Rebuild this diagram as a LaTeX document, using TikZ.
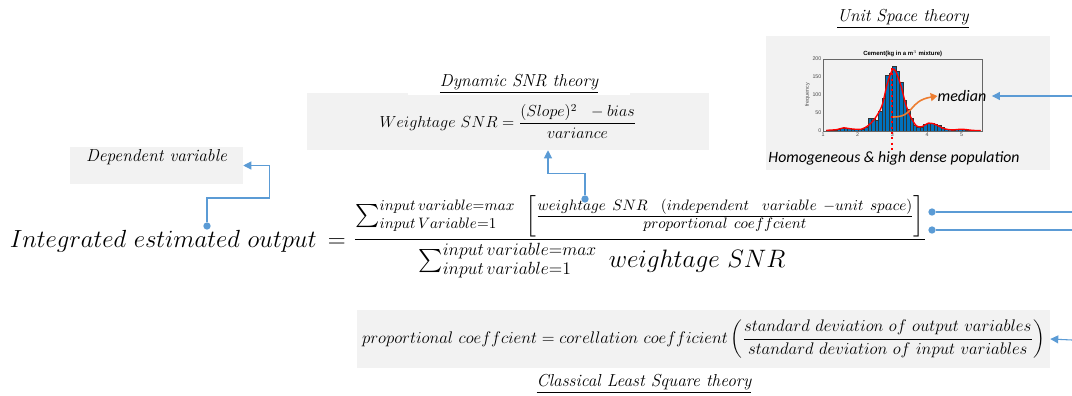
\RequirePackage{fix-cm}
\documentclass[tikz,border=0pt]{standalone}
\usepackage{fontspec}
\usepackage{amsmath}
\usetikzlibrary{arrows.meta}
\newfontfamily\calfont{Carlito}
\newfontfamily\arialfont{Liberation Sans}
\definecolor{boxgray}{HTML}{F2F2F2}
\definecolor{lineblue}{HTML}{5B9BD5}
\definecolor{barblue}{HTML}{0072BD}
\definecolor{medorange}{HTML}{ED7D31}

\begin{document}
\begin{tikzpicture}[
  x=0.75pt, y=-0.75pt,
  box/.style={fill=boxgray, inner sep=0pt},
  title/.style={font=\fontsize{13}{15}\selectfont\itshape, inner sep=1pt},
  conn/.style={draw=lineblue, line width=0.8pt},
  arr/.style={conn, {Triangle[length=6pt,width=6pt]}-},
  dot/.style={circle, fill=lineblue, inner sep=0pt, minimum size=5.5pt},
  tick/.style={font=\fontsize{4}{5}\selectfont\arialfont\color{black!70}, inner sep=1pt},
  bar/.style={fill=barblue, draw=black!80, line width=0.2pt}
]
  \useasboundingbox (0,0) rectangle (1072,396);

  % gray boxes
  \node[box, minimum width=213pt, minimum height=100.5pt] (ushist) at (908,103) {};
  \node[box, minimum width=301.5pt, minimum height=42.75pt,
        font=\fontsize{12}{15}\selectfont] (dsnr) at (508,121.5)
        {$Weightage\ SNR=\dfrac{(Slope)^2\ \ -bias}{variance}$};
  \node[box, minimum width=129.75pt, text height=10.5pt, text depth=17.25pt,
        font=\fontsize{13}{15}\selectfont\itshape] (depbox) at (156.5,165.5)
        {Dependent variable};
  \node[box, minimum width=519.75pt, minimum height=43.5pt,
        font=\fontsize{12.6}{15}\selectfont] (lsq) at (703.5,339)
        {$proportional\ coeffcient=corellation\ coefficient\left(\dfrac{standard\ deviation\ of\ output\ variables}{standard\ deviation\ of\ input\ variables}\right)$};

  % titles
  \node[title] (ustitle) at (903,19) {\underline{Unit Space theory}};
  \node[title, fill=white, minimum width=167pt] (dtitle) at (519,84) {\underline{Dynamic SNR theory}};
  \node[title] (ctitle) at (644,384) {\underline{Classical Least Square theory}};

  % main formula
  \node[anchor=base east, inner sep=0pt, font=\fontsize{18.6}{22}\selectfont] (intout) at (346,247)
        {$Integrated\ estimated\ output\,=$};
  \node[anchor=south, inner sep=0pt, font=\fontsize{16.2}{19}\selectfont] (sumnum) at (640,237)
        {$\sum_{input\,Variable=1}^{input\,variable=max}\ \left[\frac{weightage\ SNR\ \ (independent\ \ variable\ -unit\ space)}{proportional\ coeffcient}\right]$};
  \node[anchor=north, inner sep=0pt, font=\fontsize{18.9}{22}\selectfont] (sumden) at (602,243)
        {$\sum_{input\,variable=1}^{input\,variable=max}\ weightage\ SNR$};
  \draw[line width=0.9pt] ([yshift=-1.6pt]sumnum.south west) -- ([yshift=-1.6pt]sumnum.south east);

  % histogram
  \begin{scope}[shift={(823,131)}, x=26pt, y=0.27pt]
    \foreach \v/\h in {1.1/2, 1.2/2, 1.3/3, 1.4/5, 1.5/8, 1.6/9, 1.7/7, 1.8/5, 1.9/5, 2.0/5,
                       2.1/6, 2.2/10, 2.3/36, 2.4/35, 2.5/30, 2.6/55, 2.7/90, 2.8/155, 2.9/160,
                       3.0/180, 3.1/165, 3.2/135, 3.3/85, 3.4/60, 3.5/35, 3.6/15, 3.7/10, 3.8/12,
                       3.9/18, 4.0/22, 4.1/22, 4.2/20, 4.3/15, 4.4/10, 4.5/5, 4.6/4, 4.7/3,
                       4.8/4, 4.9/5, 5.0/5, 5.1/3, 5.2/2, 5.3/2, 5.4/1}
      \draw[bar] (\v-1,0) rectangle (\v-0.9,\h);
    \draw[red, line width=1pt] plot[smooth] coordinates {(0.1,2) (0.4,4) (0.6,9) (0.8,6) (1.1,5)
      (1.3,15) (1.5,35) (1.7,70) (1.85,130) (2.0,170) (2.1,165) (2.25,125) (2.4,70) (2.55,35)
      (2.7,14) (2.85,12) (3.05,22) (3.25,18) (3.45,8) (3.7,3) (4.0,5) (4.3,2) (4.55,1)};
    \draw[black!60, line width=0.3pt] (0,0) rectangle (4.6,200);
    \foreach \t in {1,...,5}
      \node[tick, below] (xt\t) at (\t-1,0) {\t};
    \foreach \t in {0,50,100,150,200}
      \node[tick, left] (yt\t) at (0,\t) {\t};
    \node[tick, rotate=90] (freq) at (-0.45,100) {frequency};
    \node[tick, font=\fontsize{4.5}{5}\selectfont\arialfont\bfseries] (htitle) at (2.3,215)
      {Cement(kg in a m$^3$ mixture)};
    \draw[red, line width=1.6pt, dash pattern=on 1.6pt off 2.4pt] (2,175) -- (2,-55);
  \end{scope}
  \node[font=\fontsize{12}{14}\selectfont\calfont\itshape, inner sep=0pt] (median) at (962,96) {median};
  \coordinate (medsrc) at (893,117);
  \draw[medorange, line width=1.2pt, -{Triangle[length=5pt,width=6pt]}]
    (medsrc) .. controls (915,117) and (908,101) .. (median.west);
  \node[font=\fontsize{11.8}{14}\selectfont\calfont\itshape, inner sep=0pt] (popl) at (894,158)
    {Homogeneous \& high dense population};

  % dots on the formula
  \node[dot] (d0) at (207,226) {};
  \node[dot] (d3) at (585,199) {};
  \node[dot] (d1) at (932,212) {};
  \node[dot] (d2) at (932,230) {};

  % free ends on the right edge
  \coordinate (r0) at (1072,96);
  \coordinate (r1) at (1072,212);
  \coordinate (r2) at (1072,230);
  \coordinate (r4) at (1072,340);

  % connectors
  \draw[arr] (depbox.east) -- ++(26,0) |- ([yshift=21pt]d0.center) -- (d0);
  \draw[arr] ([xshift=30pt]dsnr.south) |- ([yshift=19pt]d3.center) -- (d3);
  \draw[conn] (d1) -- (r1);
  \draw[conn] (d2) -- (r2);
  \draw[arr] ([xshift=4pt]median.east) -- (r0);
  \draw[arr] (lsq.east) -- (r4);
\end{tikzpicture}
\end{document}
